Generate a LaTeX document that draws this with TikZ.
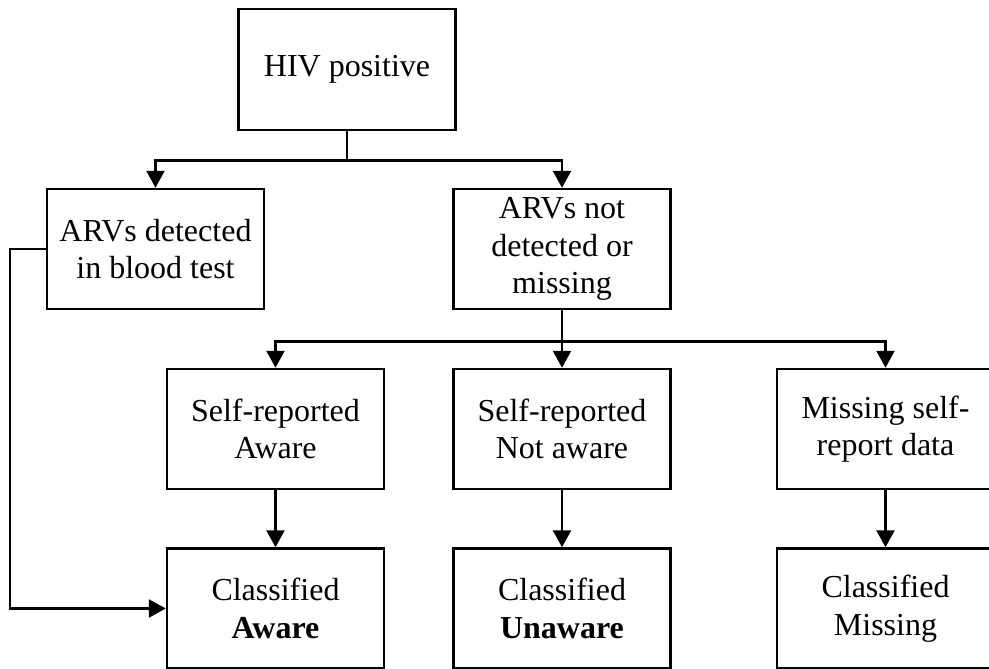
\documentclass[tikz,border=0pt]{standalone}
\usepackage{fontspec}
\setmainfont{Liberation Serif}
\usepackage{tikz}
\usetikzlibrary{arrows.meta,positioning}

\begin{document}
\begin{tikzpicture}[
    x=1pt, y=-1pt,
    box/.style={rectangle, draw, line width=2.5pt, minimum width=217pt, minimum height=120pt, align=center, font=\fontsize{32}{37.5}\selectfont, inner sep=0pt},
    arrow/.style={-{Triangle[width=18pt,length=17pt]}, line width=2.5pt}
]
\useasboundingbox (0,0) rectangle (989,669);

% Top level
\node[box, minimum height=121pt] (hiv) at (347,69.5) {HIV positive};
\node[box] (arvyes) at (155.5,249) {ARVs detected\\in blood test};
\node[box] (arvno) at (562,249) {ARVs not\\detected or\\missing};

% Self report
\node[box] (selfaware) at (275.5,429) {Self-reported\\Aware};
\node[box] (selfnot) at (562,429) {Self-reported\\Not aware};
\node[box] (selfmiss) at (885.5,429) {Missing self-\\report data};

% Classification
\node[box] (classaware) at (275.5,608.5) {Classified\\\textbf{Aware}};
\node[box] (classun) at (562,608.5) {Classified\\\textbf{Unaware}};
\node[box] (classmiss) at (885.5,608.5) {Classified\\Missing};

% Connections
\draw[arrow] (hiv.south) -- ++(0,29) -| (arvyes.north);
\draw[arrow] (hiv.south) -- ++(0,29) -| (arvno.north);
\draw[arrow] (arvno.south) -- ++(0,31) -| (selfaware.north);
\draw[arrow] (arvno.south) -- (selfnot.north);
\draw[arrow] (arvno.south) -- ++(0,31) -| (selfmiss.north);
\draw[arrow] (selfaware) -- (classaware);
\draw[arrow] (selfnot) -- (classun);
\draw[arrow] (selfmiss) -- (classmiss);
\draw[arrow] (arvyes.west) -- ++(-36,0) |- (classaware.west);

\end{tikzpicture}
\end{document}
